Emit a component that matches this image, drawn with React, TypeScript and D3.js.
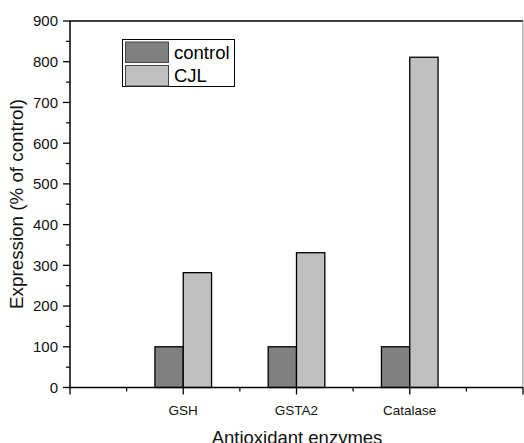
import React from "react";
import * as d3 from "d3";

const categories = ["GSH", "GSTA2", "Catalase"];
const controlValues = [100, 100, 100];
const cjlValues = [282, 331, 811];
const seriesNames = ["control", "CJL"];
const yTicks = [0, 100, 200, 300, 400, 500, 600, 700, 800, 900];

const W = 524;
const H = 443;
const left = 70;
const right = 523;
const top = 21;
const bottom = 387.5;
const font = "Arial, 'Liberation Sans', sans-serif";

export default function App() {
  const x = d3.scaleLinear().domain([0, categories.length + 1]).range([left, right]);
  const y = d3.scaleLinear().domain([0, 900]).range([bottom, top]);
  const barW = x(0.25) - x(0);
  const colors = ["#808080", "#c0c0c0"];
  const series = [controlValues, cjlValues];
  const majorX = d3.range(0, categories.length + 2);
  const minorX = d3.range(0.5, categories.length + 1, 1);
  const minorY = d3.range(50, 900, 100);

  return (
    <svg width={W} height={H} style={{ position: "absolute", left: 0, top: 0, background: "#fff" }}>
      <rect x={0} y={0} width={W} height={H} fill="#fff" />
      {/* bars */}
      {categories.map((c, i) =>
        series.map((vals, s) => {
          const cx = x(i + 1);
          const x0 = s === 0 ? cx - barW : cx;
          return (
            <rect
              key={c + s}
              x={x0}
              y={y(vals[i])}
              width={barW}
              height={y(0) - y(vals[i])}
              fill={colors[s]}
              stroke="#000"
              strokeWidth={1.3}
            />
          );
        })
      )}
      {/* frame */}
      <line x1={left} x2={right} y1={top} y2={top} stroke="#000" strokeWidth={1.5} />
      <line x1={right} x2={right} y1={top} y2={bottom} stroke="#888" strokeWidth={1} />
      <line x1={left} x2={left} y1={top} y2={bottom} stroke="#000" strokeWidth={1.5} />
      <line x1={left - 0.75} x2={right} y1={bottom} y2={bottom} stroke="#000" strokeWidth={1.5} />
      {/* y ticks */}
      {yTicks.map((t) => (
        <g key={"y" + t}>
          <line x1={left - 7} x2={left} y1={y(t)} y2={y(t)} stroke="#000" strokeWidth={1.3} />
          <text
            x={left - 12}
            y={y(t)}
            dy="0.36em"
            textAnchor="end"
            fontFamily={font}
            fontSize={15}
            fill="#111"
          >
            {t}
          </text>
        </g>
      ))}
      {minorY.map((t) => (
        <line key={"my" + t} x1={left - 4} x2={left} y1={y(t)} y2={y(t)} stroke="#000" strokeWidth={1.2} />
      ))}
      {/* x ticks */}
      {majorX.map((t) => (
        <line key={"x" + t} x1={x(t)} x2={x(t)} y1={bottom} y2={bottom + 7} stroke="#000" strokeWidth={1.3} />
      ))}
      {minorX.map((t) => (
        <line key={"mx" + t} x1={x(t)} x2={x(t)} y1={bottom} y2={bottom + 4} stroke="#000" strokeWidth={1.2} />
      ))}
      {categories.map((c, i) => (
        <text
          key={"xl" + c}
          x={x(i + 1)}
          y={415}
          textAnchor="middle"
          fontFamily={font}
          fontSize={13.5}
          fill="#111"
        >
          {c}
        </text>
      ))}
      {/* axis titles */}
      <text
        x={297}
        y={443.5}
        textAnchor="middle"
        fontFamily={font}
        fontSize={18.5}
        fill="#111"
      >
        Antioxidant enzymes
      </text>
      <text
        transform={`translate(23,204) rotate(-90)`}
        textAnchor="middle"
        fontFamily={font}
        fontSize={18.8}
        fill="#111"
      >
        Expression (% of control)
      </text>
      {/* legend */}
      <rect x={122.5} y={39.5} width={112} height={47} fill="#fff" stroke="#000" strokeWidth={1} />
      {seriesNames.map((n, i) => (
        <g key={"lg" + n}>
          <rect
            x={125.5}
            y={42 + i * 23.5}
            width={43}
            height={20.5}
            fill={colors[i]}
            stroke="#444"
            strokeWidth={1}
          />
          <text x={174} y={58.5 + i * 23.5} fontFamily={font} fontSize={18.5} fill="#000">
            {n}
          </text>
        </g>
      ))}
    </svg>
  );
}
